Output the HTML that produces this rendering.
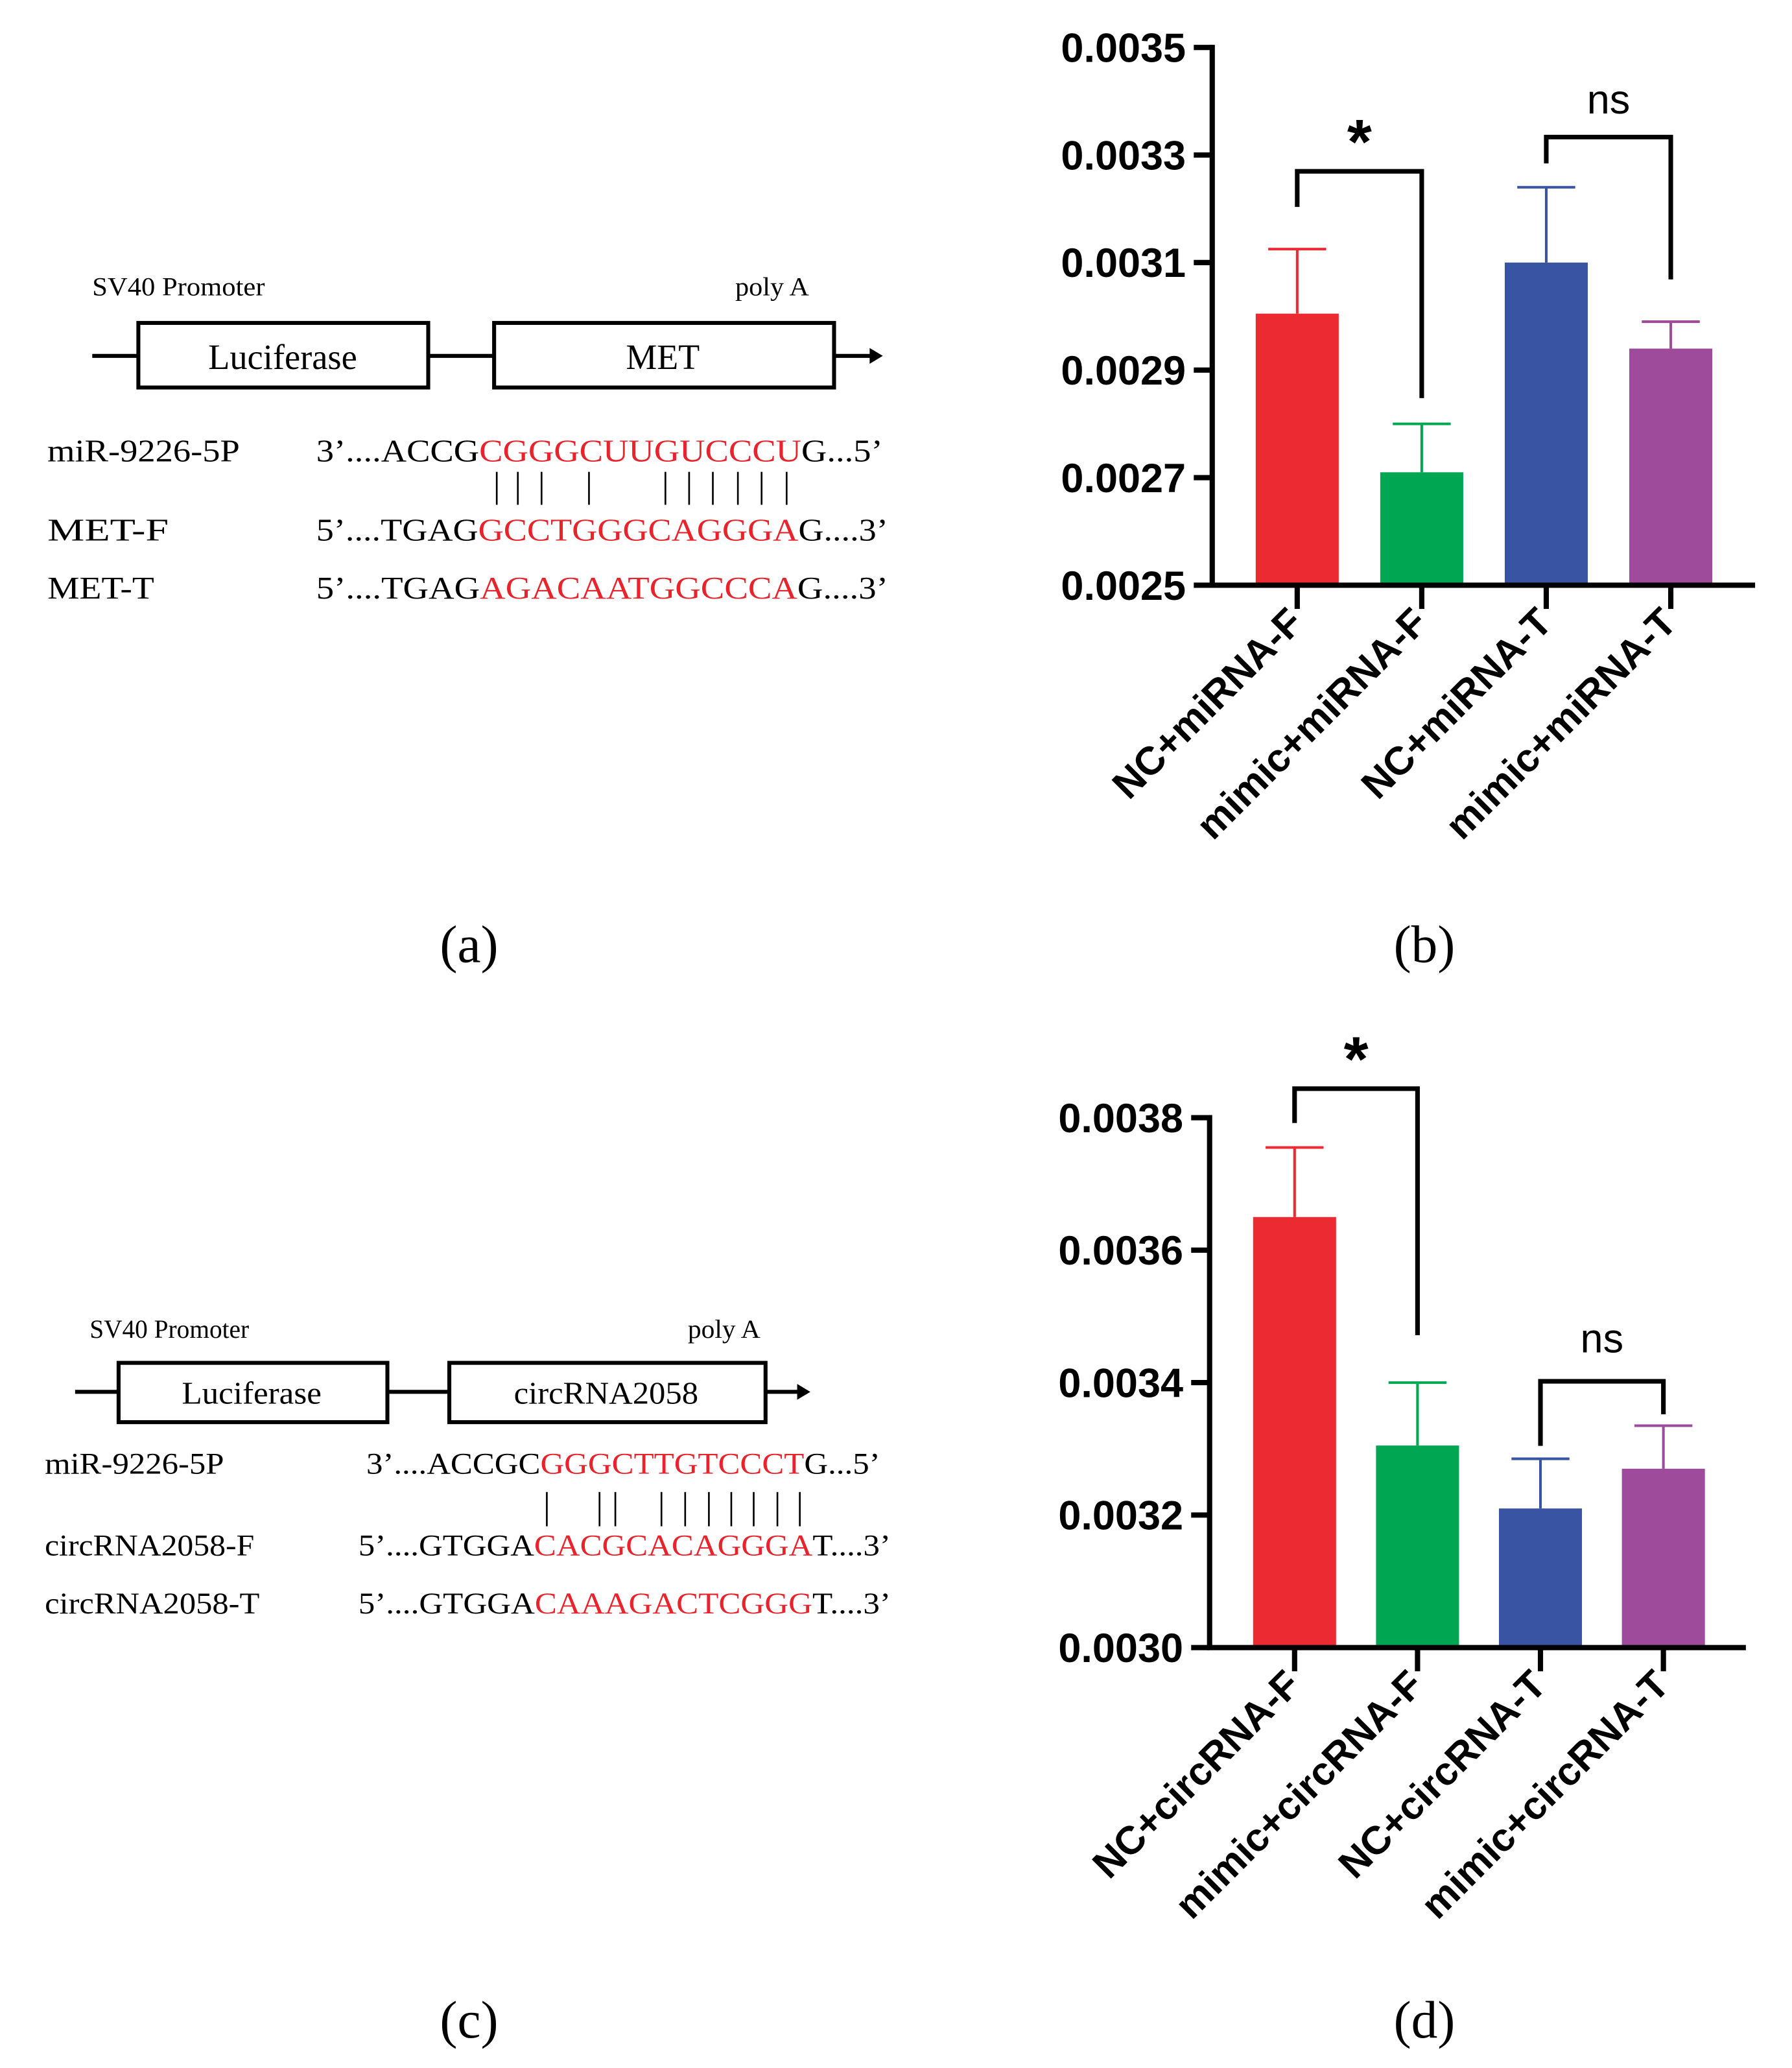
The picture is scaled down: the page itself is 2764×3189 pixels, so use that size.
<!DOCTYPE html>
<html><head><meta charset="utf-8"><style>
html,body{margin:0;padding:0;background:#fff}
svg{display:block}
.serif{font-family:"Liberation Serif",serif}
.sans{font-family:"Liberation Sans",sans-serif}
</style></head>
<body>
<svg id="fig" width="2764" height="3189" viewBox="0 0 1360 1569" preserveAspectRatio="none" xmlns="http://www.w3.org/2000/svg">
<!-- Panel a -->
<g class="serif">
<text x="70" y="224" font-size="20" textLength="131" lengthAdjust="spacingAndGlyphs">SV40 Promoter</text>
<text x="558" y="224" font-size="20" textLength="56" lengthAdjust="spacingAndGlyphs">poly A</text>
<line x1="70" y1="270" x2="105" y2="270" stroke="#000" stroke-width="3"/>
<rect x="105" y="245" width="220" height="49" fill="#fff" stroke="#000" stroke-width="3"/>
<text x="158" y="280" font-size="27" textLength="113" lengthAdjust="spacingAndGlyphs">Luciferase</text>
<line x1="325" y1="270" x2="375" y2="270" stroke="#000" stroke-width="3"/>
<rect x="375" y="245" width="258" height="49" fill="#fff" stroke="#000" stroke-width="3"/>
<text x="475" y="280" font-size="27" textLength="56" lengthAdjust="spacingAndGlyphs">MET</text>
<line x1="633" y1="270" x2="662" y2="270" stroke="#000" stroke-width="3"/>
<polygon points="660,264 670,270 660,276" fill="#000"/>
<text x="36" y="350" font-size="24" textLength="146" lengthAdjust="spacingAndGlyphs">miR-9226-5P</text>
<text x="36" y="410" font-size="24" textLength="92" lengthAdjust="spacingAndGlyphs">MET-F</text>
<text x="36" y="454" font-size="24" textLength="81" lengthAdjust="spacingAndGlyphs">MET-T</text>
<text x="240" y="350" font-size="24" textLength="430" lengthAdjust="spacingAndGlyphs">3’....ACCG<tspan fill="#e8232b">CGGGCUUGUCCCU</tspan>G...5’</text>
<text x="240" y="410" font-size="24" textLength="434" lengthAdjust="spacingAndGlyphs">5’....TGAG<tspan fill="#e8232b">GCCTGGGCAGGGA</tspan>G....3’</text>
<text x="240" y="454" font-size="24" textLength="434" lengthAdjust="spacingAndGlyphs">5’....TGAG<tspan fill="#e8232b">AGACAATGGCCCA</tspan>G....3’</text>
<g stroke="#000" stroke-width="1.3">
<line x1="377" y1="358" x2="377" y2="383"/><line x1="393" y1="358" x2="393" y2="383"/><line x1="411" y1="358" x2="411" y2="383"/><line x1="447" y1="358" x2="447" y2="383"/>
<line x1="505" y1="358" x2="505" y2="383"/><line x1="523" y1="358" x2="523" y2="383"/><line x1="541" y1="358" x2="541" y2="383"/><line x1="560" y1="358" x2="560" y2="383"/><line x1="578" y1="358" x2="578" y2="383"/><line x1="597" y1="358" x2="597" y2="383"/>
</g>
<text x="356" y="730" font-size="40" text-anchor="middle">(a)</text>
</g>
<!-- Panel c -->
<g class="serif">
<text x="68" y="1015" font-size="20" textLength="121" lengthAdjust="spacingAndGlyphs">SV40 Promoter</text>
<text x="522" y="1015" font-size="20" textLength="55" lengthAdjust="spacingAndGlyphs">poly A</text>
<line x1="57" y1="1056" x2="90" y2="1056" stroke="#000" stroke-width="3"/>
<rect x="90" y="1034" width="204" height="45" fill="#fff" stroke="#000" stroke-width="3"/>
<text x="138" y="1065" font-size="24" textLength="106" lengthAdjust="spacingAndGlyphs">Luciferase</text>
<line x1="294" y1="1056" x2="341" y2="1056" stroke="#000" stroke-width="3"/>
<rect x="341" y="1034" width="240" height="45" fill="#fff" stroke="#000" stroke-width="3"/>
<text x="390" y="1065" font-size="24" textLength="140" lengthAdjust="spacingAndGlyphs">circRNA2058</text>
<line x1="581" y1="1056" x2="607" y2="1056" stroke="#000" stroke-width="3"/>
<polygon points="605,1050 615,1056 605,1062" fill="#000"/>
<text x="34" y="1118" font-size="23" textLength="136" lengthAdjust="spacingAndGlyphs">miR-9226-5P</text>
<text x="34" y="1180" font-size="23" textLength="159" lengthAdjust="spacingAndGlyphs">circRNA2058-F</text>
<text x="34" y="1224" font-size="23" textLength="163" lengthAdjust="spacingAndGlyphs">circRNA2058-T</text>
<text x="278" y="1118" font-size="23" textLength="390" lengthAdjust="spacingAndGlyphs">3’....ACCGC<tspan fill="#e8232b">GGGCTTGTCCCT</tspan>G...5’</text>
<text x="272" y="1180" font-size="23" textLength="404" lengthAdjust="spacingAndGlyphs">5’....GTGGA<tspan fill="#e8232b">CACGCACAGGGA</tspan>T....3’</text>
<text x="272" y="1224" font-size="23" textLength="404" lengthAdjust="spacingAndGlyphs">5’....GTGGA<tspan fill="#e8232b">CAAAGACTCGGG</tspan>T....3’</text>
<g stroke="#000" stroke-width="1.3">
<line x1="415" y1="1132" x2="415" y2="1158"/><line x1="455" y1="1132" x2="455" y2="1158"/><line x1="467" y1="1132" x2="467" y2="1158"/>
<line x1="502" y1="1132" x2="502" y2="1158"/><line x1="520" y1="1132" x2="520" y2="1158"/><line x1="538" y1="1132" x2="538" y2="1158"/><line x1="555" y1="1132" x2="555" y2="1158"/><line x1="572" y1="1132" x2="572" y2="1158"/><line x1="590" y1="1132" x2="590" y2="1158"/><line x1="607" y1="1132" x2="607" y2="1158"/>
</g>
<text x="356" y="1546" font-size="40" text-anchor="middle">(c)</text>
</g>
<text x="1081" y="730" font-size="40" text-anchor="middle" class="serif">(b)</text>
<text x="1081" y="1546" font-size="40" text-anchor="middle" class="serif">(d)</text>
<g id="chartB"></g>
<g id="chartD"></g>
</svg>
<script>
const catsB = ["NC+miRNA-F","mimic+miRNA-F","NC+miRNA-T","mimic+miRNA-T"];
const valsB = [0.003005,0.00271,0.0031,0.00294];
const errB = [0.003125,0.0028,0.00324,0.00299];
const ticksB = [0.0025,0.0027,0.0029,0.0031,0.0033,0.0035];
const catsD = ["NC+circRNA-F","mimic+circRNA-F","NC+circRNA-T","mimic+circRNA-T"];
const valsD = [0.00365,0.003305,0.00321,0.00327];
const errD = [0.003755,0.0034,0.003285,0.003335];
const ticksD = [0.0030,0.0032,0.0034,0.0036,0.0038];
const colors = ["#ec2a31","#00a651","#3a54a4","#9e4b9c"];
const NS="http://www.w3.org/2000/svg";
function mk(p,tag,attrs){const e=document.createElementNS(NS,tag);for(const k in attrs)e.setAttribute(k,attrs[k]);p.appendChild(e);return e;}
function draw(g,cats,vals,errs,ticks,cfg,sig){
  const y=v=>cfg.y0+(v-ticks[0])/(ticks[ticks.length-1]-ticks[0])*(cfg.y1-cfg.y0);
  const x=i=>cfg.x0+cfg.pad+i*cfg.step;
  cats.forEach((c,i)=>{
    const cx=x(i);
    const eb=mk(g,'g',{});
    
    
    mk(eb,'line',{x1:cx,x2:cx,y1:y(vals[i]),y2:y(errs[i]),stroke:colors[i],'stroke-width':2});
    mk(eb,'line',{x1:cx-22,x2:cx+22,y1:y(errs[i]),y2:y(errs[i]),stroke:colors[i],'stroke-width':2});
    const r=mk(g,'rect',{x:cx-cfg.bw/2,y:y(vals[i]),width:cfg.bw,height:y(ticks[0])-y(vals[i]),fill:colors[i]});
    
    
    mk(g,'line',{x1:cx,x2:cx,y1:cfg.y0,y2:cfg.y0+18,stroke:'#000','stroke-width':4});
    const t=mk(g,'text',{x:cx+6,y:cfg.y0+30,'font-size':30,'font-weight':'bold','text-anchor':'end',class:'sans',transform:`rotate(-45 ${cx+6} ${cfg.y0+30})`});
    t.textContent=c;
    
    
  });
  ticks.forEach(v=>{
    mk(g,'line',{x1:cfg.x0-14,x2:cfg.x0,y1:y(v),y2:y(v),stroke:'#000','stroke-width':4});
    const t=mk(g,'text',{x:cfg.x0-20,y:y(v)+11,'font-size':31,'font-weight':'bold','text-anchor':'end',class:'sans'});
    t.textContent=v.toFixed(4);
    
    
  });
  const ax=mk(g,'path',{d:`M${cfg.x0} ${cfg.y1-2}V${cfg.y0}H${cfg.x2}`,fill:'none',stroke:'#000','stroke-width':4});
  
  
  sig.forEach(s=>{
    const a=x(s.i),b=x(s.j);
    const p=mk(g,'path',{d:`M${a} ${s.ya}V${s.top}H${b}V${s.yb}`,fill:'none',stroke:'#000','stroke-width':3.5});
    
    
    const t=mk(g,'text',{x:(a+b)/2,y:s.ty,'font-size':s.fs,'font-weight':s.bold?'bold':'normal','text-anchor':'middle',class:'sans'});
    t.textContent=s.label;
    
    
  });
}
draw(document.getElementById('chartB'),catsB,valsB,errB,ticksB,
 {x0:920,x2:1332,y0:444,y1:36,pad:64.5,step:94.5,bw:63},
 [{i:0,j:1,ya:157,top:130,yb:302,label:'*',ty:124,fs:48,bold:true},
  {i:2,j:3,ya:124,top:104,yb:212,label:'ns',ty:86,fs:31,bold:false}]);
draw(document.getElementById('chartD'),catsD,valsD,errD,ticksD,
 {x0:918,x2:1325,y0:1250,y1:848,pad:64.5,step:93.3,bw:63},
 [{i:0,j:1,ya:852,top:826,yb:1013,label:'*',ty:820,fs:48,bold:true},
  {i:2,j:3,ya:1097,top:1048,yb:1073,label:'ns',ty:1026,fs:31,bold:false}]);
</script>
</body></html>
